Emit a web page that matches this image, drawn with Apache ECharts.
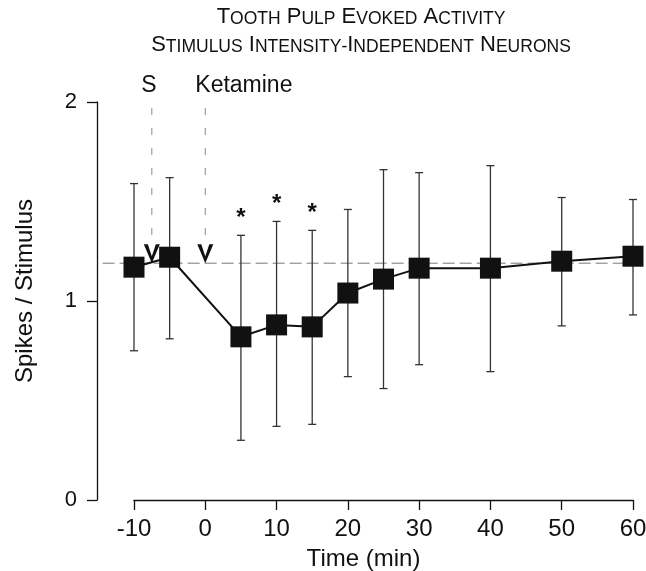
<!DOCTYPE html>
<html><head><meta charset="utf-8">
<script src="https://cdn.jsdelivr.net/npm/echarts@6/dist/echarts.min.js"></script>
<style>html,body{margin:0;padding:0;background:#fff}#c{width:646px;height:571px}</style>
</head><body><div id="c"></div>
<script>
// ---- data ----
const titleLines = ['TOOTH PULP EVOKED ACTIVITY', 'STIMULUS INTENSITY-INDEPENDENT NEURONS'];
const xName = 'Time (min)';
const yName = 'Spikes / Stimulus';
const times = [-10, -5, 5, 10, 15, 20, 25, 30, 40, 50, 60];
const means = [1.17, 1.22, 0.82, 0.88, 0.87, 1.04, 1.11, 1.165, 1.165, 1.20, 1.225];
const upper = [1.59, 1.62, 1.33, 1.40, 1.355, 1.46, 1.66, 1.645, 1.68, 1.52, 1.51];
const lower = [0.75, 0.81, 0.30, 0.37, 0.38, 0.62, 0.56, 0.68, 0.645, 0.875, 0.93];
const sigTimes = [5, 10, 15];
const baseline = 1.19;
const baselineSpan = [-14.4, 61];
const arrowTimes = [-7.5, 0];
const arrowLabels = ['S', 'Ketamine'];
const arrowTop = 1.97;

const FONT = '"Liberation Sans", Arial, Helvetica, sans-serif';

function smallCaps(str) {
  let out = '';
  let start = true;
  for (const ch of str) {
    if (ch === ' ') { out += '{b| }'; start = true; continue; }
    if (start) { out += '{b|' + ch + '}'; }
    else { out += '{s|' + ch + '}'; }
    start = (ch === '-');
  }
  return out;
}
const richTitle = {
  b: { fontSize: 22, fontFamily: FONT, color: '#111', verticalAlign: 'bottom' },
  s: { fontSize: 17.5, fontFamily: FONT, color: '#111', verticalAlign: 'bottom' }
};

const chart = echarts.init(document.getElementById('c'), null, { renderer: 'canvas' });
chart.setOption({
  animation: false,
  backgroundColor: '#fff',
  title: titleLines.map((t, i) => ({
    text: smallCaps(t),
    left: 361, top: 6 + i * 28, textAlign: 'center', padding: 0,
    textStyle: { rich: richTitle, fontSize: 22, fontWeight: 'normal' }
  })),
  grid: { left: 134, right: 13, top: 102, bottom: 71, containLabel: false, outerBoundsMode: 'none' },
  xAxis: {
    type: 'value', min: -10, max: 60, interval: 10,
    name: xName, nameLocation: 'middle', nameGap: 47,
    nameTextStyle: { fontSize: 24, fontFamily: FONT, color: '#111', padding: [0, 40, 0, 0] },
    axisLine: { onZero: false, lineStyle: { color: '#111', width: 1.3 } },
    axisTick: { length: 10, lineStyle: { color: '#111', width: 1.3 } },
    axisLabel: { fontSize: 24, fontFamily: FONT, color: '#111', margin: 17 },
    splitLine: { show: false }
  },
  yAxis: {
    type: 'value', min: 0, max: 2, interval: 1, offset: 37,
    name: yName, nameLocation: 'middle', nameGap: 60,
    nameTextStyle: { fontSize: 24, fontFamily: FONT, color: '#111', padding: [0, 0, 0, 20] },
    axisLine: { show: true, onZero: false, lineStyle: { color: '#111', width: 1.3 } },
    axisTick: { show: true, length: 10, lineStyle: { color: '#111', width: 1.3 } },
    axisLabel: { fontSize: 22, fontFamily: FONT, color: '#111', margin: 20 },
    splitLine: { show: false }
  },
  series: [
    { // baseline reference
      type: 'custom', clip: false, z: 1,
      data: [[baselineSpan[0], baselineSpan[1], baseline]],
      renderItem: (p, api) => {
        const a = api.coord([api.value(0), api.value(2)]);
        const b = api.coord([api.value(1), api.value(2)]);
        return { type: 'line', shape: { x1: a[0], y1: a[1], x2: b[0], y2: b[1] },
          style: { stroke: '#777', lineWidth: 1, lineDash: [12, 5] } };
      }
    },
    { // arrows
      type: 'custom', clip: false, z: 2,
      data: arrowTimes.map((t, i) => [t, i]),
      renderItem: (p, api) => {
        const t = api.value(0);
        const i = api.value(1);
        const tip = api.coord([t, baseline]);
        const top = api.coord([t, arrowTop]);
        const h = 19;
        const label = arrowLabels[i];
        return { type: 'group', children: [
          { type: 'line', shape: { x1: tip[0], y1: top[1], x2: tip[0], y2: tip[1] - h },
            style: { stroke: '#888', lineWidth: 1, lineDash: [7, 13] } },
          { type: 'polygon', shape: { points: [
              [tip[0], tip[1]], [tip[0] - 8, tip[1] - h], [tip[0] - 4, tip[1] - h],
              [tip[0], tip[1] - 7], [tip[0] + 4, tip[1] - h], [tip[0] + 8, tip[1] - h]] },
            style: { fill: '#111' } },
          { type: 'text', style: {
              text: label, x: i === 0 ? tip[0] - 3 : tip[0] - 10, y: 86,
              align: i === 0 ? 'center' : 'left', verticalAlign: 'middle',
              fontSize: 23, fontFamily: FONT, fill: '#111' } }
        ] };
      }
    },
    { // error bars
      type: 'custom', clip: false, z: 3,
      data: times.map((t, i) => [t, upper[i], lower[i]]),
      renderItem: (p, api) => {
        const pt = api.coord([api.value(0), api.value(1)]);
        const pb = api.coord([api.value(0), api.value(2)]);
        const w = 4;
        const st = { stroke: '#333', lineWidth: 1.3 };
        return { type: 'group', children: [
          { type: 'line', shape: { x1: pt[0], y1: pt[1], x2: pb[0], y2: pb[1] }, style: st },
          { type: 'line', shape: { x1: pt[0] - w, y1: pt[1], x2: pt[0] + w, y2: pt[1] }, style: st },
          { type: 'line', shape: { x1: pb[0] - w, y1: pb[1], x2: pb[0] + w, y2: pb[1] }, style: st }
        ] };
      }
    },
    { // asterisks
      type: 'custom', clip: false, z: 4,
      data: sigTimes.map(t => [t, upper[times.indexOf(t)]]),
      renderItem: (p, api) => {
        const c = api.coord([api.value(0), api.value(1)]);
        return { type: 'text', style: { text: '*', x: c[0], y: c[1] - 17,
          align: 'center', verticalAlign: 'middle', fontSize: 24, fontWeight: 'bold',
          fontFamily: FONT, fill: '#111' } };
      }
    },
    { // means
      type: 'line', z: 5,
      data: times.map((t, i) => [t, means[i]]),
      symbol: 'rect', symbolSize: 21,
      lineStyle: { color: '#111', width: 2 },
      itemStyle: { color: '#111' }
    }
  ]
});
</script>
</body></html>
